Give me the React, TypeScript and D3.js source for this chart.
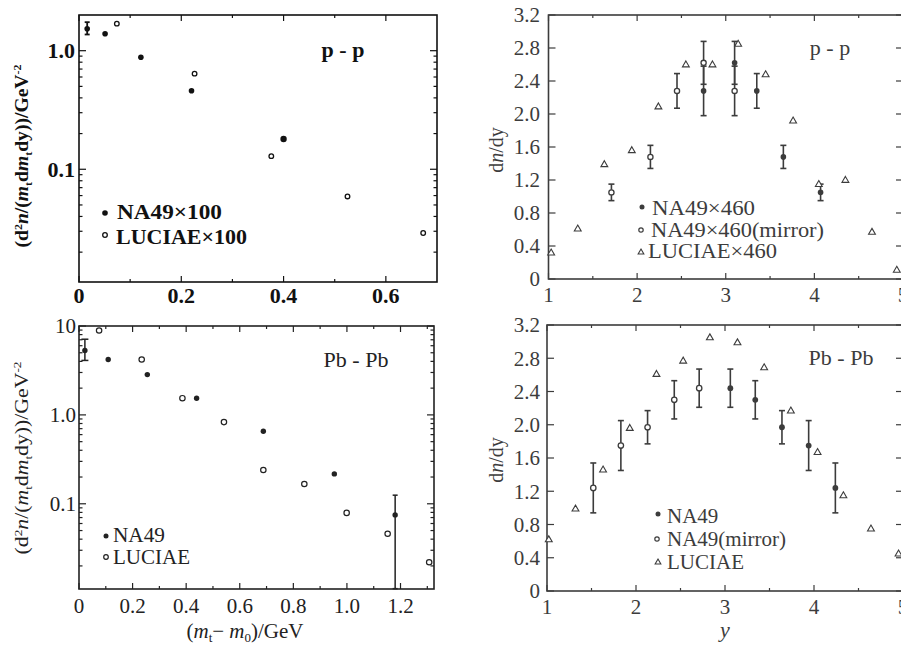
import React from 'react';
import * as d3 from 'd3';

const W = 901, H = 646;

// ---------- Panel (a): p-p, mt spectrum ----------
const ppMtNA49X = [0.016, 0.051, 0.121, 0.22, 0.40];
const ppMtNA49Y = [1.53, 1.39, 0.88, 0.46, 0.18];
const ppMtNA49Lo = [1.37, null, null, null, null];
const ppMtNA49Hi = [1.74, null, null, null, null];
const ppMtLuciaeX = [0.074, 0.226, 0.376, 0.525, 0.673];
const ppMtLuciaeY = [1.69, 0.64, 0.129, 0.059, 0.029];

// ---------- Panel (b): p-p, rapidity ----------
const ppYNA49X = [2.75, 3.1, 3.35, 3.65, 4.07];
const ppYNA49Y = [2.28, 2.62, 2.28, 1.48, 1.05];
const ppYNA49Err = [0.3, 0.26, 0.21, 0.14, 0.1];
const ppYMirrorX = [1.71, 2.15, 2.45, 2.75, 3.1];
const ppYMirrorY = [1.05, 1.48, 2.28, 2.62, 2.28];
const ppYMirrorErr = [0.1, 0.14, 0.21, 0.26, 0.3];
const ppYLuciaeX = [1.03, 1.33, 1.63, 1.94, 2.24, 2.55, 2.85, 3.14, 3.45, 3.76, 4.05, 4.35, 4.65, 4.93];
const ppYLuciaeY = [0.32, 0.61, 1.39, 1.56, 2.09, 2.60, 2.60, 2.85, 2.48, 1.92, 1.15, 1.20, 0.57, 0.11];

// ---------- Panel (c): Pb-Pb, mt spectrum ----------
const pbMtNA49X = [0.022, 0.109, 0.255, 0.439, 0.688, 0.953, 1.18];
const pbMtNA49Y = [5.3, 4.2, 2.84, 1.54, 0.655, 0.217, 0.075];
const pbMtNA49Lo = [4.1, null, null, null, null, null, 0.0111];
const pbMtNA49Hi = [7.1, null, null, null, null, null, 0.125];
const pbMtLuciaeX = [0.075, 0.234, 0.386, 0.541, 0.688, 0.841, 0.999, 1.152, 1.307];
const pbMtLuciaeY = [8.9, 4.2, 1.54, 0.83, 0.24, 0.167, 0.079, 0.046, 0.022];

// ---------- Panel (d): Pb-Pb, rapidity ----------
const pbYNA49X = [3.06, 3.34, 3.64, 3.94, 4.24];
const pbYNA49Y = [2.44, 2.30, 1.97, 1.75, 1.24];
const pbYNA49Err = [0.23, 0.23, 0.2, 0.3, 0.3];
const pbYMirrorX = [1.52, 1.83, 2.13, 2.43, 2.71];
const pbYMirrorY = [1.24, 1.75, 1.97, 2.30, 2.44];
const pbYMirrorErr = [0.3, 0.3, 0.2, 0.23, 0.23];
const pbYLuciaeX = [1.02, 1.32, 1.63, 1.93, 2.23, 2.53, 2.83, 3.14, 3.44, 3.74, 4.04, 4.33, 4.64, 4.95];
const pbYLuciaeY = [0.62, 0.99, 1.46, 1.96, 2.61, 2.77, 3.05, 2.99, 2.69, 2.17, 1.67, 1.15, 0.75, 0.45];

// tick labels
const mtTicksA = [0, 0.2, 0.4, 0.6];
const mtTicksC = [0, 0.2, 0.4, 0.6, 0.8, 1.0, 1.2];
const logTicksA = [1, 0.1];
const logTicksC = [10, 1, 0.1];
const yTicksLin = [0, 0.4, 0.8, 1.2, 1.6, 2.0, 2.4, 2.8, 3.2];
const yXTicks = [1, 2, 3, 4, 5];

const FONT = "'Liberation Serif', 'DejaVu Serif', serif";

const tri = (cx: number, cy: number, s: number) =>
  `M${cx},${cy - s}L${cx + s * 0.95},${cy + s * 0.65}L${cx - s * 0.95},${cy + s * 0.65}Z`;

function ErrBar({ x, y1, y2, color, w = 1.6, cap = 3 }: any) {
  return (
    <g stroke={color} strokeWidth={w}>
      <line x1={x} x2={x} y1={y1} y2={y2} />
      <line x1={x - cap} x2={x + cap} y1={y1} y2={y1} />
      <line x1={x - cap} x2={x + cap} y1={y2} y2={y2} />
    </g>
  );
}

function logMinors(lo: number, hi: number) {
  const out: number[] = [];
  for (let e = -3; e <= 2; e++) {
    for (let m = 2; m <= 9; m++) {
      const v = m * Math.pow(10, e);
      if (v > lo && v < hi) out.push(v);
    }
  }
  return out;
}

function Frame({ x0, x1, y0, y1, color, w }: any) {
  return <rect x={x0} y={y0} width={x1 - x0} height={y1 - y0} fill="none" stroke={color} strokeWidth={w} />;
}

export default function App() {
  const xA = d3.scaleLinear().domain([0, 0.70]).range([79, 437]);
  const yA = d3.scaleLog().domain([0.0112, 2.0]).range([282, 15]);
  const cA = '#111';

  const xB = d3.scaleLinear().domain([1, 5]).range([548.5, 903]);
  const yB = d3.scaleLinear().domain([0, 3.2]).range([279, 15]);
  const cB = '#3c3c3c';

  const xC = d3.scaleLinear().domain([0, 1.325]).range([79, 434]);
  const yC = d3.scaleLog().domain([0.011, 10]).range([589, 326]);
  const cC = '#222';

  const xD = d3.scaleLinear().domain([1, 5]).range([547, 903]);
  const yD = d3.scaleLinear().domain([0, 3.2]).range([591, 325]);
  const cD = '#3c3c3c';

  const minorA = logMinors(0.0112, 2.0);
  const minorC = logMinors(0.011, 10);

  const ticks = (xs: any, ys: any, color: string, xMaj: number[], xMin: number[], yMaj: number[], yMin: number[]) => {
    const [X0, X1] = xs.range();
    const [Y1, Y0] = ys.range();
    const els: any[] = [];
    xMaj.forEach((v, i) => {
      const px = xs(v);
      els.push(<line key={'xM' + i} x1={px} x2={px} y1={Y1} y2={Y1 - 6} />);
      els.push(<line key={'xMt' + i} x1={px} x2={px} y1={Y0} y2={Y0 + 6} />);
    });
    xMin.forEach((v, i) => {
      const px = xs(v);
      els.push(<line key={'xm' + i} x1={px} x2={px} y1={Y1} y2={Y1 - 3} />);
      els.push(<line key={'xmt' + i} x1={px} x2={px} y1={Y0} y2={Y0 + 3} />);
    });
    yMaj.forEach((v, i) => {
      const py = ys(v);
      els.push(<line key={'yM' + i} x1={X0} x2={X0 + 7} y1={py} y2={py} />);
      els.push(<line key={'yMr' + i} x1={X1} x2={X1 - 7} y1={py} y2={py} />);
    });
    yMin.forEach((v, i) => {
      const py = ys(v);
      els.push(<line key={'ym' + i} x1={X0} x2={X0 + 3.5} y1={py} y2={py} />);
      els.push(<line key={'ymr' + i} x1={X1} x2={X1 - 3.5} y1={py} y2={py} />);
    });
    return <g stroke={color} strokeWidth={1.2}>{els}</g>;
  };

  const mtLabel = (cx: number, cy: number, len: number, color: string, bold: boolean) => (
    <text transform={`translate(${cx},${cy}) rotate(-90)`} textAnchor="middle" fontSize={18} fontWeight={bold ? 'bold' : 'normal'} fill={color}
      textLength={len} lengthAdjust="spacingAndGlyphs">
      (d<tspan dy={-6} fontSize={11}>2</tspan><tspan dy={6} fontStyle="italic">n</tspan>/(<tspan fontStyle="italic">m</tspan><tspan dy={4} fontSize={11}>t</tspan><tspan dy={-4}>d</tspan><tspan fontStyle="italic">m</tspan><tspan dy={4} fontSize={11}>t</tspan><tspan dy={-4}>dy))/GeV</tspan><tspan dy={-7} fontSize={11}>-2</tspan>
    </text>
  );

  return (
    <svg width={W} height={H} style={{ position: 'absolute', left: 0, top: 0, background: '#fff' }} fontFamily={FONT}>
      <rect x={0} y={0} width={W} height={H} fill="#fff" />

      {/* ============ Panel A ============ */}
      <g>
        {ticks(xA, yA, cA, mtTicksA, [0.1, 0.3, 0.5], logTicksA, minorA)}
        <Frame x0={79} x1={437} y0={15} y1={282} color={cA} w={1.6} />
        {mtTicksA.map((v) => (
          <text key={v} x={xA(v)} y={303} textAnchor="middle" fontSize={22} fontWeight="bold" fill={cA}>{v === 0 ? '0' : v.toFixed(1)}</text>
        ))}
        {logTicksA.map((v) => (
          <text key={v} x={75} y={yA(v)} dy="0.35em" textAnchor="end" fontSize={22} fontWeight="bold" fill={cA}>{v.toFixed(1)}</text>
        ))}
        {mtLabel(28, 156, 183, cA, true)}
        {ppMtNA49X.map((x, i) => (
          ppMtNA49Lo[i] != null ? <ErrBar key={'e' + i} x={xA(x)} y1={yA(ppMtNA49Lo[i] as number)} y2={yA(ppMtNA49Hi[i] as number)} color={cA} w={1.8} cap={2.5} /> : null
        ))}
        {ppMtNA49X.map((x, i) => (
          <circle key={'n' + i} cx={xA(x)} cy={yA(ppMtNA49Y[i])} r={i === 4 ? 3.2 : 2.8} fill={cA} />
        ))}
        {ppMtLuciaeX.map((x, i) => (
          <circle key={'l' + i} cx={xA(x)} cy={yA(ppMtLuciaeY[i])} r={2.3} fill="#fff" stroke={cA} strokeWidth={1.3} />
        ))}
        <text x={343} y={57} textAnchor="middle" fontSize={22} fontWeight="bold" fill={cA}>p - p</text>
        <circle cx={105} cy={213} r={2.8} fill={cA} />
        <text x={117} y={219} fontSize={21} fontWeight="bold" fill={cA} textLength={105} lengthAdjust="spacingAndGlyphs">NA49×100</text>
        <circle cx={105} cy={235} r={2.3} fill="#fff" stroke={cA} strokeWidth={1.3} />
        <text x={116} y={244} fontSize={21} fontWeight="bold" fill={cA} textLength={131} lengthAdjust="spacingAndGlyphs">LUCIAE×100</text>
      </g>

      {/* ============ Panel B ============ */}
      <g>
        {ticks(xB, yB, cB, yXTicks, [1.5, 2.5, 3.5, 4.5], yTicksLin, [])}
        <Frame x0={548.5} x1={903} y0={15} y1={279} color={cB} w={1.6} />
        {yXTicks.map((v) => (
          <text key={v} x={xB(v)} y={302} textAnchor="middle" fontSize={21} fill={cB}>{v}</text>
        ))}
        {yTicksLin.map((v) => (
          <text key={v} x={540} y={yB(v)} dy="0.35em" textAnchor="end" fontSize={21} fill={cB}>{v === 0 ? '0' : v.toFixed(1)}</text>
        ))}
        <text transform="translate(503,150) rotate(-90)" textAnchor="middle" fontSize={20} fill={cB}>d<tspan fontStyle="italic">n</tspan>/dy</text>
        {ppYNA49X.map((x, i) => (
          <ErrBar key={'e' + i} x={xB(x)} y1={yB(ppYNA49Y[i] - ppYNA49Err[i])} y2={yB(ppYNA49Y[i] + ppYNA49Err[i])} color={cB} />
        ))}
        {ppYMirrorX.map((x, i) => (
          <ErrBar key={'em' + i} x={xB(x)} y1={yB(ppYMirrorY[i] - ppYMirrorErr[i])} y2={yB(ppYMirrorY[i] + ppYMirrorErr[i])} color={cB} />
        ))}
        {ppYLuciaeX.map((x, i) => (
          <path key={'l' + i} d={tri(xB(x), yB(ppYLuciaeY[i]), 3.6)} fill="#fff" stroke={cB} strokeWidth={1.1} />
        ))}
        {ppYMirrorX.map((x, i) => (
          <circle key={'m' + i} cx={xB(x)} cy={yB(ppYMirrorY[i])} r={2.6} fill="#fff" stroke={cB} strokeWidth={1.3} />
        ))}
        {ppYNA49X.map((x, i) => (
          <circle key={'n' + i} cx={xB(x)} cy={yB(ppYNA49Y[i])} r={2.8} fill={cB} />
        ))}
        <text x={830} y={55} textAnchor="middle" fontSize={22} fill={cB}>p - p</text>
        <circle cx={642} cy={207} r={2.5} fill={cB} />
        <text x={652} y={215} fontSize={20} fill={cB} textLength={103} lengthAdjust="spacingAndGlyphs">NA49×460</text>
        <circle cx={641} cy={230} r={2.2} fill="#fff" stroke={cB} strokeWidth={1.2} />
        <text x={651} y={237} fontSize={20} fill={cB} textLength={173} lengthAdjust="spacingAndGlyphs">NA49×460(mirror)</text>
        <path d={tri(641, 252, 3)} fill="#fff" stroke={cB} strokeWidth={1.1} />
        <text x={648} y={258} fontSize={20} fill={cB} textLength={129} lengthAdjust="spacingAndGlyphs">LUCIAE×460</text>
      </g>

      {/* ============ Panel C ============ */}
      <g>
        {ticks(xC, yC, cC, mtTicksC, [0.1, 0.3, 0.5, 0.7, 0.9, 1.1, 1.3], logTicksC, minorC)}
        <Frame x0={79} x1={434} y0={326} y1={589} color={cC} w={1.6} />
        {mtTicksC.map((v) => (
          <text key={v} x={xC(v)} y={613} textAnchor="middle" fontSize={21} fill={cC}>{v === 0 ? '0' : v.toFixed(1)}</text>
        ))}
        {logTicksC.map((v) => (
          <text key={v} x={76} y={yC(v)} dy="0.35em" textAnchor="end" fontSize={21} fill={cC}>{v === 10 ? '10' : v.toFixed(1)}</text>
        ))}
        {mtLabel(28, 458, 193, cC, false)}
        <text x={245} y={638} textAnchor="middle" fontSize={21} fill={cC}>(<tspan fontStyle="italic">m</tspan><tspan dy={4} fontSize={13}>t</tspan><tspan dy={-4}>− </tspan><tspan fontStyle="italic">m</tspan><tspan dy={4} fontSize={13}>0</tspan><tspan dy={-4}>)/GeV</tspan></text>
        {pbMtNA49X.map((x, i) => (
          pbMtNA49Lo[i] != null ? <ErrBar key={'e' + i} x={xC(x)} y1={yC(pbMtNA49Lo[i] as number)} y2={yC(pbMtNA49Hi[i] as number)} color={cC} w={1.5} cap={i === 0 ? 3.5 : 2.5} /> : null
        ))}
        {pbMtNA49X.map((x, i) => (
          <circle key={'n' + i} cx={xC(x)} cy={yC(pbMtNA49Y[i])} r={2.7} fill={cC} />
        ))}
        {pbMtLuciaeX.map((x, i) => (
          <circle key={'l' + i} cx={xC(x)} cy={yC(pbMtLuciaeY[i])} r={2.7} fill="#fff" stroke={cC} strokeWidth={1.2} />
        ))}
        <text x={356} y={367} textAnchor="middle" fontSize={22} fill={cC}>Pb - Pb</text>
        <circle cx={106} cy={536} r={2.5} fill={cC} />
        <text x={113} y={542} fontSize={20} fill={cC} textLength={52} lengthAdjust="spacingAndGlyphs">NA49</text>
        <circle cx={106} cy={557} r={2.3} fill="#fff" stroke={cC} strokeWidth={1.2} />
        <text x={113} y={564} fontSize={20} fill={cC} textLength={77} lengthAdjust="spacingAndGlyphs">LUCIAE</text>
      </g>

      {/* ============ Panel D ============ */}
      <g>
        {ticks(xD, yD, cD, yXTicks, [1.5, 2.5, 3.5, 4.5], yTicksLin, [])}
        <Frame x0={547} x1={903} y0={325} y1={591} color={cD} w={1.6} />
        {yXTicks.map((v) => (
          <text key={v} x={xD(v)} y={614} textAnchor="middle" fontSize={21} fill={cD}>{v}</text>
        ))}
        {yTicksLin.map((v) => (
          <text key={v} x={540} y={yD(v)} dy="0.35em" textAnchor="end" fontSize={21} fill={cD}>{v === 0 ? '0' : v.toFixed(1)}</text>
        ))}
        <text transform="translate(503,460) rotate(-90)" textAnchor="middle" fontSize={20} fill={cD}>d<tspan fontStyle="italic">n</tspan>/dy</text>
        <text x={725} y={637} textAnchor="middle" fontSize={22} fontStyle="italic" fill={cD}>y</text>
        {pbYNA49X.map((x, i) => (
          <ErrBar key={'e' + i} x={xD(x)} y1={yD(pbYNA49Y[i] - pbYNA49Err[i])} y2={yD(pbYNA49Y[i] + pbYNA49Err[i])} color={cD} />
        ))}
        {pbYMirrorX.map((x, i) => (
          <ErrBar key={'em' + i} x={xD(x)} y1={yD(pbYMirrorY[i] - pbYMirrorErr[i])} y2={yD(pbYMirrorY[i] + pbYMirrorErr[i])} color={cD} />
        ))}
        {pbYLuciaeX.map((x, i) => (
          <path key={'l' + i} d={tri(xD(x), yD(pbYLuciaeY[i]), 3.6)} fill="#fff" stroke={cD} strokeWidth={1.1} />
        ))}
        {pbYMirrorX.map((x, i) => (
          <circle key={'m' + i} cx={xD(x)} cy={yD(pbYMirrorY[i])} r={2.7} fill="#fff" stroke={cD} strokeWidth={1.3} />
        ))}
        {pbYNA49X.map((x, i) => (
          <circle key={'n' + i} cx={xD(x)} cy={yD(pbYNA49Y[i])} r={2.9} fill={cD} />
        ))}
        <text x={841} y={365} textAnchor="middle" fontSize={22} fill={cD}>Pb - Pb</text>
        <circle cx={658} cy={514} r={2.5} fill={cD} />
        <text x={667} y={523} fontSize={21} fill={cD}>NA49</text>
        <circle cx={657} cy={539} r={2.2} fill="#fff" stroke={cD} strokeWidth={1.2} />
        <text x={667} y={546} fontSize={21} fill={cD}>NA49(mirror)</text>
        <path d={tri(658, 562, 3)} fill="#fff" stroke={cD} strokeWidth={1.1} />
        <text x={667} y={569} fontSize={21} fill={cD}>LUCIAE</text>
      </g>
    </svg>
  );
}
